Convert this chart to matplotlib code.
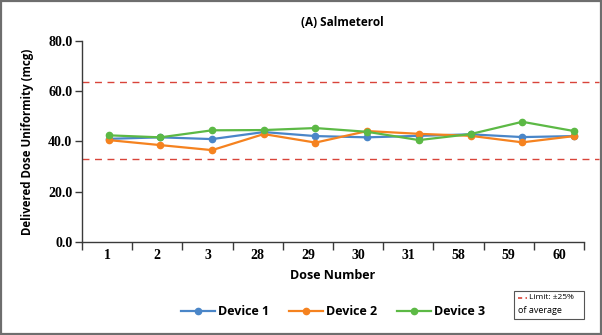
import matplotlib
matplotlib.use("Agg")
import matplotlib.pyplot as plt
from matplotlib.lines import Line2D
from matplotlib.patches import Rectangle

# dose numbers sampled along the canister life
doses = ["1", "2", "3", "28", "29", "30", "31", "58", "59", "60"]

# delivered dose per actuation (mcg)
device1 = [41.0, 41.6, 40.9, 43.7, 42.1, 41.6, 42.2, 42.8, 41.7, 42.1]
device2 = [40.5, 38.5, 36.5, 42.9, 39.5, 44.1, 43.0, 42.2, 39.6, 42.1]
device3 = [42.4, 41.6, 44.4, 44.5, 45.3, 43.8, 40.5, 42.9, 47.8, 44.1]

# +/-25% limits
limit_hi = 63.8
limit_lo = 32.9

yticks = [0, 20, 40, 60, 80]

c1 = "#4a86c8"
c2 = "#f5821f"
c3 = "#5cb945"
red = "#d9443a"
spine = "#3a3a3a"

serif = "Liberation Serif"
sans = "Open Sans"

fig = plt.figure(figsize=(6.02, 3.35), dpi=100)

ax = fig.add_axes([82 / 602, 1 - 241.7 / 335, 502 / 602, 200.7 / 335])
ax.set_xlim(0, len(doses))
ax.set_ylim(0, 80)

for s in ["top", "right"]:
    ax.spines[s].set_visible(False)
for s in ["left", "bottom"]:
    ax.spines[s].set_color(spine)
    ax.spines[s].set_linewidth(1.0)

# category boundaries get the tick marks, labels sit in the middle
ax.set_xticks(range(len(doses) + 1))
ax.set_xticklabels([])
ax.set_xticks([i + 0.5 for i in range(len(doses))], minor=True)
ax.set_xticklabels(doses, minor=True, fontfamily=serif, fontweight="bold", fontsize=10)
ax.tick_params(axis="x", which="major", length=6, width=1, color=spine, direction="out")
ax.tick_params(axis="x", which="minor", length=0, pad=5)

ax.set_yticks(yticks)
ax.set_yticklabels([f"{v:.1f}" for v in yticks], fontfamily=serif, fontweight="bold", fontsize=10)
ax.tick_params(axis="y", length=5, width=1, color=spine, pad=2)

ax.axhline(limit_hi, color=red, lw=1.0, ls=(0, (5, 4)), clip_on=False, xmax=1.03)
ax.axhline(limit_lo, color=red, lw=1.0, ls=(0, (5, 4)), clip_on=False, xmax=1.03)

ax.set_xlabel("Dose Number", fontfamily=sans, fontweight="bold", fontsize=9, labelpad=5)
ax.set_ylabel("Delivered Dose Uniformity (mcg)", fontfamily=sans, fontweight="bold",
              fontsize=8.3, labelpad=10)

# series sit on their own overlay axes
ax2 = fig.add_axes(ax.get_position(), frameon=False)
ax2.set_xlim(-0.516, 9.193)
ax2.set_ylim(0, 80)
ax2.axis("off")
x = list(range(len(doses)))
kw = dict(lw=1.6, marker="o", markersize=4.5)
h1, = ax2.plot(x, device1, color=c1, label="Device 1", **kw)
h2, = ax2.plot(x, device2, color=c2, label="Device 2", **kw)
h3, = ax2.plot(x, device3, color=c3, label="Device 3", **kw)

fig.legend(handles=[h1, h2, h3], loc="center", bbox_to_anchor=(333 / 602, 1 - 311.5 / 335),
           ncol=3, frameon=False, handlelength=2.7, columnspacing=1.6, handletextpad=0.25,
           prop={"family": sans, "weight": "bold", "size": 9})

fig.text(342 / 602, 1 - 23 / 335, "(A) Salmeterol", ha="center", va="center",
         fontfamily=sans, fontweight="bold", fontsize=8.5)

# small key for the limit lines
fig.patches.append(Rectangle((514 / 602, 1 - 319 / 335), 70 / 602, 28.5 / 335,
                             transform=fig.transFigure, fill=False, ec="#555555", lw=0.8))
fig.lines.append(Line2D([518 / 602, 527 / 602], [1 - 297.5 / 335] * 2, transform=fig.transFigure,
                        color=red, lw=1.2, ls=(0, (2.5, 2))))
fig.text(529 / 602, 1 - 297.5 / 335, "Limit: \u00b125%", ha="left", va="center",
         fontfamily=sans, fontsize=6)
fig.text(518 / 602, 1 - 310.5 / 335, "of average", ha="left", va="center",
         fontfamily=sans, fontsize=6.5)

# outer frame
fig.patches.append(Rectangle((0.002, 0.003), 0.996, 0.994, transform=fig.transFigure,
                             fill=False, ec="#6e6e6e", lw=1.6))

fig.savefig("out.png", dpi=100)
